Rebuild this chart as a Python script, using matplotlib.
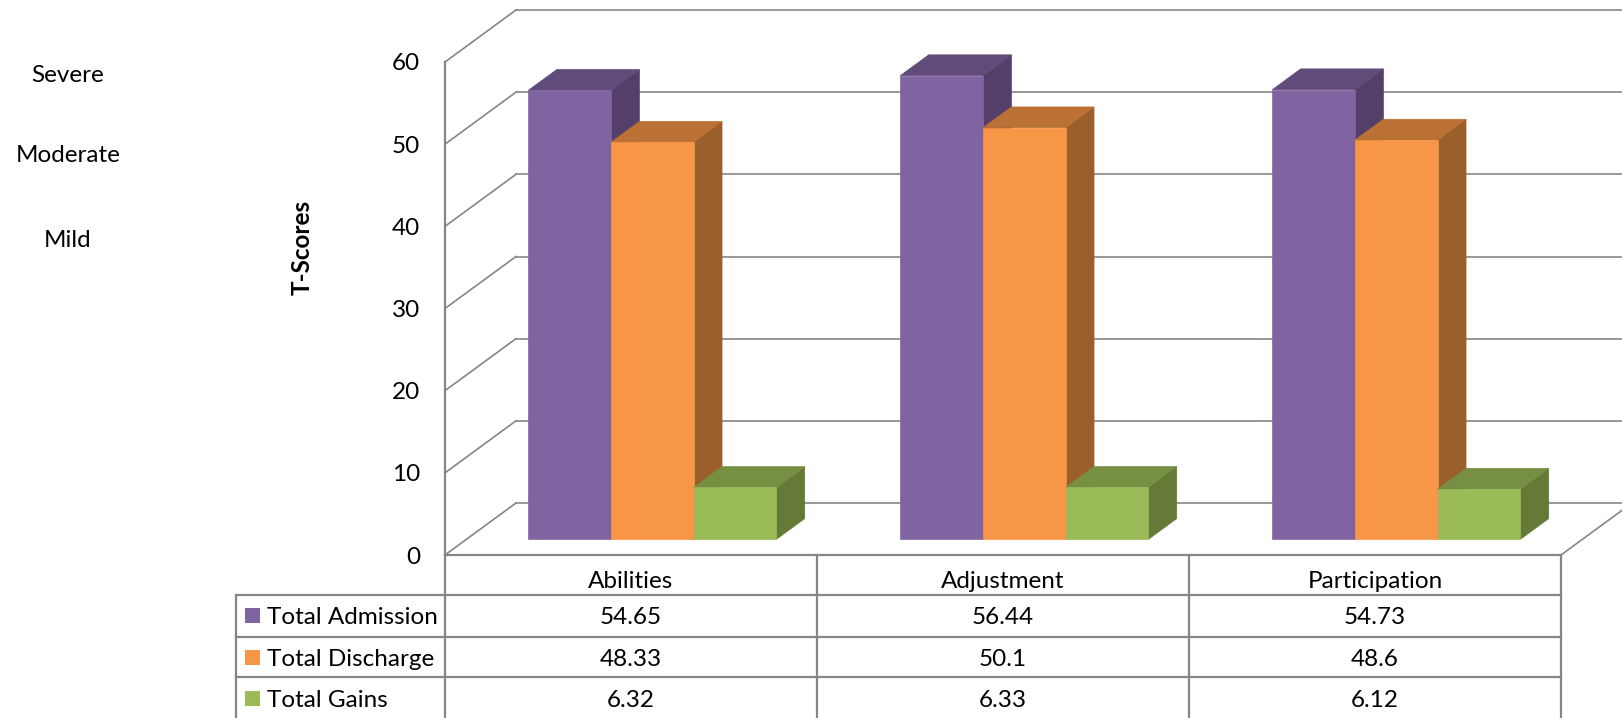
import matplotlib
matplotlib.use("Agg")
import matplotlib.pyplot as plt
from matplotlib.patches import Polygon, Rectangle

# ---- data ----
categories = ["Abilities", "Adjustment", "Participation"]
series_names = ["Total Admission", "Total Discharge", "Total Gains"]
total_admission = [54.65, 56.44, 54.73]
total_discharge = [48.33, 50.1, 48.6]
total_gains = [6.32, 6.33, 6.12]
y_ticks = [0, 10, 20, 30, 40, 50, 60]
severity_labels = ["Severe", "Moderate", "Mild"]
y_label = "T-Scores"

series_values = [total_admission, total_discharge, total_gains]
front_colors = ["#8064A2", "#F79646", "#9BBB59"]
top_colors = ["#614B7A", "#BB7034", "#778F43"]
side_colors = ["#533F6A", "#9B5F2B", "#667A38"]
line_color = "#868686"

FONT = "Lato"
FS = 17.5

# ---- figure / layout (pixels) ----
W, H = 1622, 718
fig = plt.figure(figsize=(W / 100, H / 100), dpi=100)
fig.patch.set_facecolor("white")

left_px, right_px, floor_px, top_px = 445, 1561, 555, 62
ymax = y_ticks[-1]
ax = fig.add_axes([left_px / W, 1 - floor_px / H,
                   (right_px - left_px) / W, (floor_px - top_px) / H])
ax.set_xlim(0, len(categories))
ax.set_ylim(0, ymax)
ax.axis("off")
ax.patch.set_alpha(0)

px_per_cat = (right_px - left_px) / len(categories)
px_per_unit = (floor_px - top_px) / ymax
DX = 71 / px_per_cat      # full depth in category units
DY = 52 / px_per_unit     # full depth in value units
ncat = len(categories)

# ---- walls: left-wall diagonals, back-wall gridlines, floor ----
glw = 1.2
for v in y_ticks:
    ax.plot([0, DX], [v, v + DY], color=line_color, lw=glw, clip_on=False, zorder=1)
    ax.plot([DX, ncat + DX + 0.2], [v + DY, v + DY], color=line_color, lw=glw,
            clip_on=False, zorder=1)
ax.plot([ncat, ncat + DX], [0, DY], color=line_color, lw=glw, clip_on=False, zorder=1)

# ---- 3-D bars ----
gap_width = 1.5
bar_w = 1 / (len(series_values) + gap_width)
d_front, d_depth = 0.3, 0.4
z = 5
for c in range(ncat):
    for s, vals in enumerate(series_values):
        v = vals[c]
        x0 = c + 0.5 + (s - len(series_values) / 2) * bar_w + d_front * DX
        b = d_front * DY
        dx, dy = d_depth * DX, d_depth * DY
        side = [(x0 + bar_w, b), (x0 + bar_w + dx, b + dy),
                (x0 + bar_w + dx, b + v + dy), (x0 + bar_w, b + v)]
        top = [(x0, b + v), (x0 + bar_w, b + v),
               (x0 + bar_w + dx, b + v + dy), (x0 + dx, b + v + dy)]
        for poly, col in ((side, side_colors[s]), (top, top_colors[s])):
            ax.add_patch(Polygon(poly, closed=True, facecolor=col, edgecolor=col,
                                 lw=0.5, clip_on=False, zorder=z))
        ax.add_patch(Rectangle((x0, b), bar_w, v, facecolor=front_colors[s],
                               edgecolor=front_colors[s], lw=0.5, clip_on=False,
                               zorder=z + 1))
        z += 2

# ---- value axis labels ----
for v in y_ticks:
    ax.text(-25 / px_per_cat, v - 2 / px_per_unit, str(v), ha="right", va="center",
            fontsize=FS, family=FONT, color="black", clip_on=False)

# ---- overlay in pixel coordinates for table and side texts ----
ov = fig.add_axes([0, 0, 1, 1], zorder=-1)
ov.set_xlim(0, W)
ov.set_ylim(H, 0)
ov.axis("off")

tlw = 1.6
col_edges = [left_px + i * px_per_cat for i in range(ncat + 1)]
row_edges = [floor_px, 595, 637, 677, H + 5]
label_left = 236

# front axis line running down through the table
ov.plot([left_px, left_px], [top_px, H + 5], color=line_color, lw=tlw)
# table horizontals
ov.plot([left_px, right_px], [floor_px, floor_px], color=line_color, lw=tlw)
for y in row_edges[1:-1]:
    ov.plot([label_left, right_px], [y, y], color=line_color, lw=tlw)
# table verticals
ov.plot([label_left, label_left], [row_edges[1], H + 5], color=line_color, lw=tlw)
for x in col_edges[1:]:
    ov.plot([x, x], [floor_px, H + 5], color=line_color, lw=tlw)

# header row
for i, cat in enumerate(categories):
    cx = (col_edges[i] + col_edges[i + 1]) / 2
    ov.text(cx, 588, cat, ha="center", va="baseline", fontsize=FS, family=FONT)

row_baselines = [624, 666, 707]
for r, (name, vals) in enumerate(zip(series_names, series_values)):
    yb = row_baselines[r]
    ov.add_patch(Rectangle((245, yb - 16), 15, 15, facecolor=front_colors[r],
                           edgecolor="none"))
    ov.text(267, yb, name, ha="left", va="baseline", fontsize=FS, family=FONT)
    for i, v in enumerate(vals):
        cx = (col_edges[i] + col_edges[i + 1]) / 2
        ov.text(cx, yb, f"{v:g}", ha="center", va="baseline", fontsize=FS, family=FONT)

# severity bands and axis title
for lbl, yb in zip(severity_labels, [82, 162, 247]):
    ov.text(68, yb, lbl, ha="center", va="baseline", fontsize=FS, family=FONT)
ov.text(302, 247, y_label, ha="center", va="center", rotation=90, fontsize=FS,
        family=FONT, fontweight="bold")

fig.savefig("out.png", dpi=100, facecolor="white")
